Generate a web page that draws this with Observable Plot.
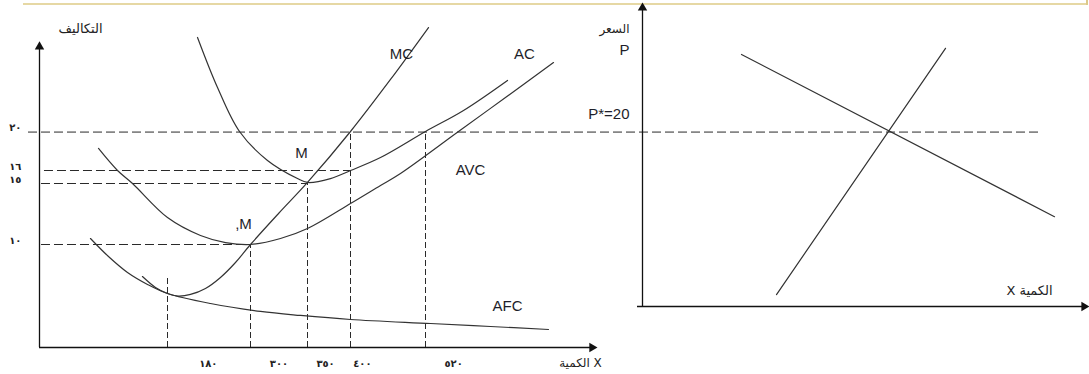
<!DOCTYPE html>
<html><head><meta charset="utf-8">
<script src="https://cdn.jsdelivr.net/npm/d3@7"></script>
<script src="https://cdn.jsdelivr.net/npm/@observablehq/plot@0.6"></script>
<style>
body{margin:0;background:#fff;}
#wrap{position:relative;width:1089px;height:374px;overflow:hidden;background:#fff;}
#topline{position:absolute;left:23px;top:3px;width:1064px;height:2px;background:#e6d8a4;}
#topcap{position:absolute;left:1086px;top:0;width:2px;height:5px;background:#dcc98a;}
</style></head><body>
<div id="wrap"><div id="topline"></div><div id="topcap"></div></div>
<script>
// ---------- Left chart: cost curves (quantity, cost) ----------
const costTicks = [20, 16, 15, 10];
const costTickLabels = ["٢٠", "١٦", "١٥", "١٠"];
const costLevels = [16, 15, 10];
const levelFromQty = [7, 2.8, 2.8];
const levelToQty = [400, 350, 300];
const qtyTicks = [180, 300, 350, 400, 520];
const qtyTickLabels = ["١٨٠", "٣٠٠", "٣٥٠", "٤٠٠", "٥٢٠"];
const qtyTickLabelAt = [239, 325, 371, 419, 565];
const guideTopCost = [6.8, 10, 15, 20, 20];

const MC = [[144.8,6.89],[163.1,5.83],[180,5.24],[194.5,5.0],[213.3,5.15],[234.9,5.73],[256.6,6.8],[278.3,8.25],[300,10],[324.6,12.54],[350,15.08],[400,20],[464,24.73],[524.8,29.45]];
const AC = [[223.4,28.55],[252.3,24],[284.1,20],[314.9,17.03],[341.2,15.38],[350,15.08],[376.7,15.38],[400,16],[448,17.33],[520,20],[580.8,21.91],[651.2,24.64]];
const AVC = [[83,18.26],[109.7,16],[130.8,15],[180,12.21],[227.7,10.74],[263.9,10.16],[300,10],[326.3,10.49],[350,11.31],[400,13.36],[448,14.84],[480,15.77],[572.8,20],[648,23.09],[724.8,26.27]];
const AFC = [[71.7,10.49],[97,8.83],[123.75,7.28],[151.9,6.12],[180,5.24],[242.2,4.27],[308.8,3.5],[343.9,3.11],[400,2.72],[528,2.33],[624,2.04],[716.8,1.75]];

const curveNames = ["MC", "AC", "AVC", "AFC"];
const curveLabelAt = [[481.6,27.05],[678.4,27.05],[592,16],[651.2,3.98]];
const minNames = ["M", ",M"];
const minLabelAt = [[344.7,17.79],[289.9,11.64]];
const costAxisTop = 27.7;
const qtyAxisEnd = 786.5;

// ---------- Right chart: market (quantity, price) ----------
const demand = [[9.9,28.9],[41.2,10.3]];
const supply = [[13.4,1.37],[30.3,29.6]];
const pStar = 20;
const pStarFromQty = -61.4;
const pStarToQty = 40;
const priceAxisTop = 34.24;
const marketQtyEnd = 44.16;

const ink = "#2a2a2a";
const latin = "'Liberation Sans', Arial, sans-serif";
const arabic = "'DejaVu Sans', sans-serif";
const baseStyle = {position: "absolute", top: "0px", left: "0px", background: "transparent", overflow: "visible", fontFamily: latin};

const left = Plot.plot({
  width: 600, height: 374, margin: 0,
  style: baseStyle,
  x: {type: "linear", domain: [0, ...qtyTicks, 800], range: [39, 167, 250, 307, 350, 425, 600], axis: null},
  y: {type: "linear", domain: [0, ...costTicks.slice().reverse(), 30], range: [347, 244, 183, 170, 131, 21], axis: null},
  marks: [
    Plot.ruleY(costLevels, {y: d => d, x1: (d, i) => levelFromQty[i], x2: (d, i) => levelToQty[i], stroke: ink, strokeWidth: 1, strokeDasharray: "9,4"}),
    Plot.ruleX(qtyTicks, {x: d => d, y1: 0, y2: (d, i) => guideTopCost[i], stroke: ink, strokeWidth: 1, strokeDasharray: "6,3"}),
    ...[MC, AC, AVC, AFC].map(pts => Plot.line(pts, {x: d => d[0], y: d => d[1], curve: "catmull-rom", stroke: "#333", strokeWidth: 1.2})),
    Plot.ruleX([0], {y1: 0, y2: costAxisTop, stroke: "#111", strokeWidth: 1.3}),
    Plot.ruleY([0], {x1: 0, x2: qtyAxisEnd, stroke: "#111", strokeWidth: 1.3}),
    Plot.dot([[0, costAxisTop]], {x: d => d[0], y: d => d[1], symbol: "triangle", r: 3.5, fill: "#111", stroke: "none"}),
    Plot.dot([[qtyAxisEnd, 0]], {x: d => d[0], y: d => d[1], symbol: "triangle", r: 3.5, fill: "#111", stroke: "none", rotate: 90}),
    Plot.text(costTicks, {x: -34, y: d => d, text: (d, i) => costTickLabels[i], dy: -4, fontSize: 10, fontWeight: "bold", fontFamily: arabic, fill: "#222"}),
    Plot.text(qtyTickLabels, {x: (d, i) => qtyTickLabelAt[i], y: -1.55, text: d => d, fontSize: 10, fontWeight: "bold", fontFamily: arabic, fill: "#222"}),
    Plot.text(curveNames, {x: (d, i) => curveLabelAt[i][0], y: (d, i) => curveLabelAt[i][1], text: d => d, fontSize: 15, fill: "#1e1e2a"}),
    Plot.text(minNames, {x: (d, i) => minLabelAt[i][0], y: (d, i) => minLabelAt[i][1], text: d => d, fontSize: 15, fill: "#1e1e2a"}),
    Plot.text(["التكاليف"], {x: 57.7, y: 29.36, text: d => d, fontSize: 13, fontFamily: arabic, fill: "#222"}),
    Plot.text(["الكمية X"], {x: 768, y: -1.55, text: d => d, fontSize: 12, fontFamily: arabic, fill: "#222"})
  ]
});

const right = Plot.plot({
  width: 1089, height: 374, margin: 0,
  style: baseStyle,
  x: {type: "linear", domain: [0, 45], range: [642, 1092], axis: null},
  y: {type: "linear", domain: [0, 35], range: [306, 0.75], axis: null},
  marks: [
    Plot.ruleY([pStar], {x1: pStarFromQty, x2: pStarToQty, stroke: ink, strokeWidth: 1, strokeDasharray: "9,4"}),
    Plot.line(demand, {x: d => d[0], y: d => d[1], stroke: "#333", strokeWidth: 1.2}),
    Plot.line(supply, {x: d => d[0], y: d => d[1], stroke: "#333", strokeWidth: 1.2}),
    Plot.ruleX([0], {y1: 0, y2: priceAxisTop, stroke: "#111", strokeWidth: 1.3}),
    Plot.ruleY([0], {x1: -0.5, x2: marketQtyEnd, stroke: "#111", strokeWidth: 1.3}),
    Plot.dot([[0, priceAxisTop]], {x: d => d[0], y: d => d[1], symbol: "triangle", r: 3.5, fill: "#111", stroke: "none"}),
    Plot.dot([[marketQtyEnd, 0]], {x: d => d[0], y: d => d[1], symbol: "triangle", r: 3.5, fill: "#111", stroke: "none", rotate: 90}),
    Plot.text(["السعر"], {x: -1.3, y: 31.8, text: d => d, textAnchor: "end", fontSize: 12, fontFamily: arabic, fill: "#222"}),
    Plot.text(["P"], {x: -1.3, y: 29.4, text: d => d, textAnchor: "end", fontSize: 15, fill: "#1e1e2a"}),
    Plot.text(["P*=" + pStar], {x: -1.3, y: 22.1, text: d => d, textAnchor: "end", fontSize: 15, fill: "#1e1e2a"}),
    Plot.text(["X الكمية"], {x: 38.7, y: 1.83, text: d => d, fontSize: 13, fontFamily: arabic, fill: "#222"})
  ]
});

document.getElementById("wrap").append(left, right);
</script>
</body></html>
